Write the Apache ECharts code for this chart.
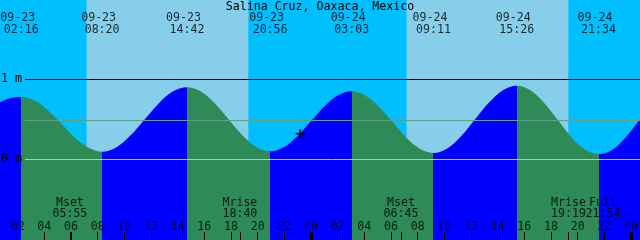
<!DOCTYPE html>
<html><head><meta charset="utf-8">
<script src="https://cdn.jsdelivr.net/npm/echarts@6/dist/echarts.min.js"></script>
<style>html,body{margin:0;padding:0;background:#fff}#c{width:640px;height:240px}</style>
</head><body><div id="c"></div>
<script>
// ---------------- data ----------------
const chartTitle = 'Salina Cruz, Oaxaca, Mexico';
// tide extremes (local time, metres)
const extremeTimes = ['09-23 02:16','09-23 08:20','09-23 14:42','09-23 20:56','09-24 03:03','09-24 09:11','09-24 15:26','09-24 21:34'];
const extremeHeights = [0.78, 0.095, 0.90, 0.10, 0.85, 0.08, 0.92, 0.065];
// tide curve samples: hours since 09-23 00:00, height in metres
const curveHours = [0.675, 1.47, 2.267, 3.278, 4.289, 5.30, 6.311, 7.322, 8.333,
  9.394, 10.456, 11.517, 12.578, 13.639, 14.70,
  15.739, 16.778, 17.817, 18.855, 19.894, 20.933,
  21.953, 22.972, 23.992, 25.011, 26.031, 27.05,
  28.072, 29.094, 30.117, 31.139, 32.161, 33.183,
  34.225, 35.267, 36.308, 37.35, 38.392, 39.433,
  40.455, 41.478, 42.50, 43.522, 44.545, 45.567,
  46.60, 47.63, 48.675];
const curveHeights = [0.71, 0.765, 0.78, 0.734, 0.609, 0.44, 0.266, 0.145, 0.095,
  0.149, 0.296, 0.497, 0.699, 0.846, 0.90,
  0.846, 0.70, 0.50, 0.30, 0.154, 0.10,
  0.150, 0.288, 0.475, 0.663, 0.80, 0.85,
  0.798, 0.658, 0.465, 0.273, 0.132, 0.08,
  0.136, 0.29, 0.50, 0.71, 0.864, 0.92,
  0.863, 0.706, 0.493, 0.279, 0.122, 0.065,
  0.12, 0.28, 0.50];
// daylight periods (sunrise, sunset)
const sunrises = ['09-23 07:10', '09-24 07:10'];
const sunsets = ['09-23 19:18', '09-24 19:18'];
// moon events
const moonNames = ['Mset', 'Mrise', 'Mset', 'Mrise', 'Full'];
const moonTimes = ['09-23 05:55', '09-23 18:40', '09-24 06:45', '09-24 19:19', '09-24 21:54'];
// hour ticks (hours since 09-23 00:00) and their labels
const hourTicks = [2,4,6,8,10,12,14,16,18,20,22,24,26,28,30,32,34,36,38,40,42,44,46,48];
const hourLabels = ['02','04','06','08','10','12','14','16','18','20','22','00','02','04','06','08','10','12','14','16','18','20','22','00'];
const midnightTicks = [24, 48];
// reference levels (metres)
const levelValues = [1, 0.49, 0];
const levelLabels = ['1 m', '', '0 m'];
// current time marker
const nowTime = '09-23 23:11';
const nowHeight = 0.32;

// ---------------- helpers / styling ----------------
const FONT = 'DejaVu Sans Mono';
const FS = 11.6;
const NIGHT = '#00BFFF', DAY = '#87CEEB', FLOOD = '#0000FF', EBB = '#2E8B57';
const X_MIN = 0.675, X_MAX = 48.675;
const Y_MIN = -1.00875, Y_MAX = 1.99125;
const pxToY = py => Y_MAX - py / 240 * (Y_MAX - Y_MIN);
const pxToX = px => X_MIN + px / 640 * (X_MAX - X_MIN);
function toHours(s) {
  const [md, hm] = s.split(' ');
  const day = parseInt(md.split('-')[1], 10) - 23;
  const [h, m] = hm.split(':').map(Number);
  return day * 24 + h + m / 60;
}
const extremeHours = extremeTimes.map(toHours);

// flood/ebb pieces
const pieces = [];
extremeHours.forEach((t, i) => {
  const isHigh = extremeHeights[i] > 0.5;
  const piece = { lt: t, color: isHigh ? FLOOD : EBB };
  if (i > 0) piece.gte = extremeHours[i - 1];
  pieces.push(piece);
});
{
  const lastHigh = extremeHeights[extremeHeights.length - 1] > 0.5;
  pieces.push({ gte: extremeHours[extremeHours.length - 1], color: lastHigh ? EBB : FLOOD });
}

const lineStart = pxToX(25);
const levelColors = ['#000000', '#5fa08a', '#8fd4ec'];
const textLabel = (extra) => Object.assign({ show: true, position: 'inside', align: 'center', verticalAlign: 'middle',
  color: '#000', fontFamily: FONT, fontSize: FS }, extra);

const option = {
  animation: false,
  backgroundColor: NIGHT,
  title: {
    text: chartTitle, left: 'center', top: 1, padding: 0,
    textStyle: { fontFamily: FONT, fontSize: FS, fontWeight: 'normal', color: '#000', lineHeight: 12 }
  },
  grid: { left: 0, right: 0, top: 0, bottom: 0 },
  xAxis: [
    {
      type: 'value', min: X_MIN, max: X_MAX, position: 'bottom', offset: 0, z: 10,
      axisLine: { show: false, onZero: false }, splitLine: { show: false }, axisLabel: { show: false },
      axisTick: { show: true, inside: true, length: 8, lineStyle: { color: '#000', width: 1 },
        customValues: hourTicks.filter(v => midnightTicks.indexOf(v) < 0).concat(moonTimes.map(toHours)) }
    },
    {
      type: 'value', min: X_MIN, max: X_MAX, position: 'bottom', offset: 0, z: 10,
      axisLine: { show: false, onZero: false }, splitLine: { show: false }, axisLabel: { show: false },
      axisTick: { show: true, inside: true, length: 8, lineStyle: { color: '#000', width: 3 }, customValues: midnightTicks }
    }
  ],
  yAxis: { type: 'value', min: Y_MIN, max: Y_MAX, show: false, splitLine: { show: false } },
  visualMap: { type: 'piecewise', show: false, dimension: 0, seriesIndex: 0, pieces: pieces },
  series: [
    {
      type: 'line', z: 2,
      data: curveHours.map((t, i) => [t, curveHeights[i]]),
      smooth: 0.35, showSymbol: false, symbol: 'none',
      lineStyle: { width: 0, opacity: 0 },
      areaStyle: { opacity: 1, origin: 'start' },
      silent: true,
      markArea: {
        silent: true,
        itemStyle: { color: DAY, opacity: 1 },
        data: sunrises.map((s, i) => [{ xAxis: toHours(s) }, { xAxis: toHours(sunsets[i]) }])
      },
      markLine: {
        silent: true, symbol: ['none', 'none'], precision: 4,
        data: levelValues.map((v, i) => [
          { coord: [lineStart, v],
            lineStyle: { color: levelColors[i], width: 1, type: 'solid' },
            label: { show: levelLabels[i] !== '', position: 'start', distance: 3, formatter: levelLabels[i],
              color: '#000', fontFamily: FONT, fontSize: FS } },
          { coord: [X_MAX, v] }
        ])
      }
    },
    {
      type: 'scatter', z: 6, silent: true, clip: false,
      symbolSize: 1, itemStyle: { color: 'rgba(0,0,0,0)' },
      data: extremeTimes.map(s => [toHours(s), pxToY(24), s.split(' ')[0], s.split(' ')[1]]),
      label: textLabel({ lineHeight: 12, formatter: p => p.data[2] + '\u00a0\n' + p.data[3] })
    },
    {
      type: 'scatter', z: 6, silent: true, clip: false,
      symbolSize: 1, itemStyle: { color: 'rgba(0,0,0,0)' },
      data: moonTimes.map((s, i) => [toHours(s), pxToY(208.5), moonNames[i], s.split(' ')[1]]),
      label: textLabel({ lineHeight: 11.5, formatter: p => p.data[2] + '\n' + p.data[3] })
    },
    {
      type: 'scatter', z: 6, silent: true, clip: false,
      symbolSize: 1, itemStyle: { color: 'rgba(0,0,0,0)' },
      data: hourTicks.map((h, i) => [h, pxToY(226.5), hourLabels[i]]),
      label: textLabel({ formatter: p => p.data[2] })
    },
    {
      type: 'scatter', z: 7, silent: true,
      symbol: 'path://M0,3.5L9,3.5L9,5.5L0,5.5Z M3.5,0L5.5,0L5.5,9L3.5,9Z',
      symbolSize: 9, itemStyle: { color: '#000' },
      data: [[toHours(nowTime), nowHeight]]
    }
  ]
};
const chart = echarts.init(document.getElementById('c'), null, { renderer: 'canvas' });
chart.setOption(option);
</script>
</body></html>
